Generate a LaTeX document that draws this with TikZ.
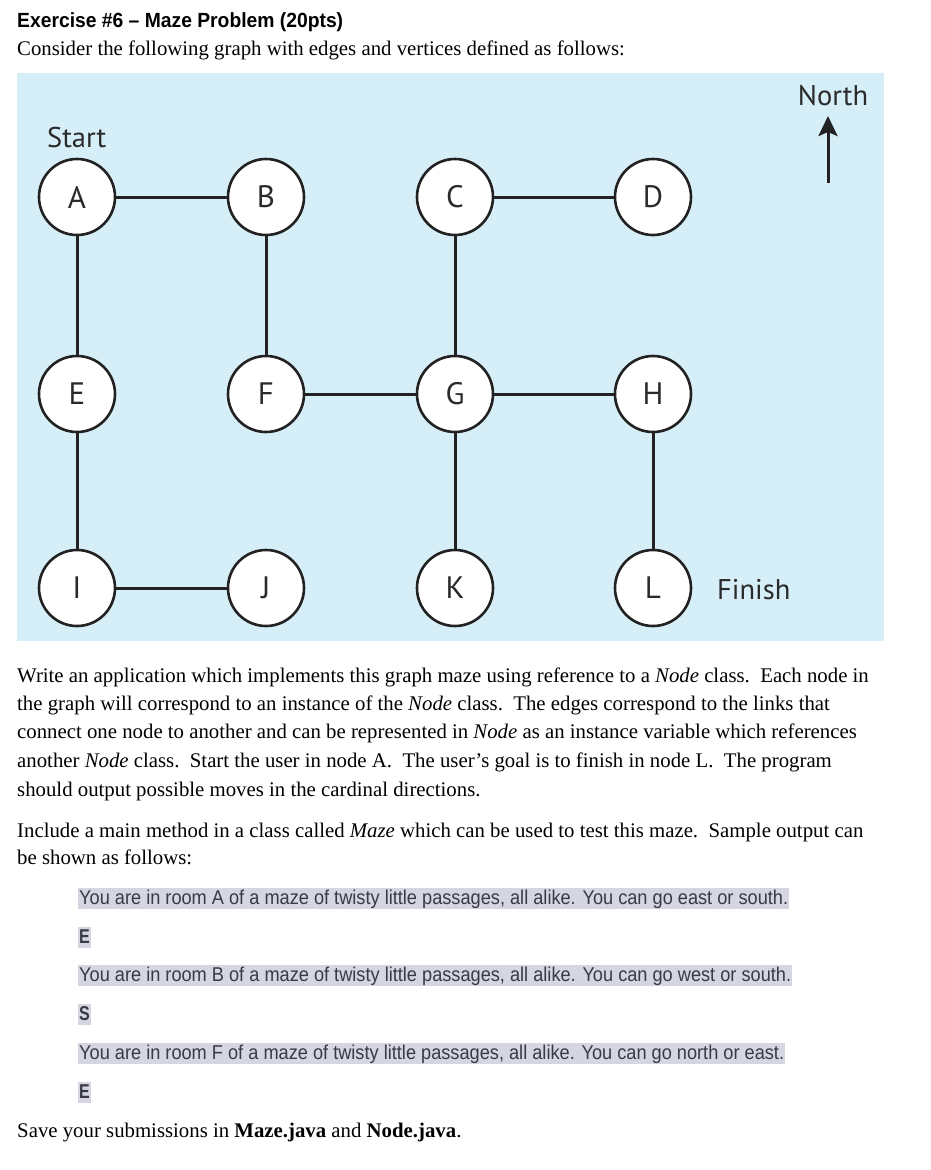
\documentclass[tikz,border=0pt]{standalone}
\usepackage{fontspec}
\usepackage{graphicx}
\setmainfont{Liberation Serif}
\newfontfamily\titlefont{Liberation Sans}
\newfontfamily\labfont{PT Sans}
\newfontfamily\outfont{Liberation Sans}
\usetikzlibrary{arrows.meta}
\definecolor{bgblue}{HTML}{D6EEF8}
\definecolor{circc}{HTML}{222222}
\definecolor{labgray}{HTML}{2A2A2A}
\definecolor{hl}{HTML}{D6D6E2}
\definecolor{outc}{HTML}{3A3A44}
\newlength\fitlen
\newcommand\fitto[2]{\settowidth\fitlen{#2}\pgfmathsetmacro\fitr{#1/\fitlen}\scalebox{\fitr}[1]{#2}}
\newcommand\outsq[1]{\scalebox{0.8}[1]{#1}}
\begin{document}
\begin{tikzpicture}[x=1pt,y=-1pt,
  room/.style={circle, draw=circc, fill=white, line width=2.6pt, minimum size=76pt, inner sep=0pt,
    font=\labfont\fontsize{31}{31}\selectfont, text=labgray},
  edge/.style={line width=3pt, draw=circc},
  lab/.style={inner sep=0pt, anchor=base west, font=\labfont\fontsize{28.5}{30}\selectfont, text=labgray},
  para/.style={anchor=base west, inner sep=0pt, font=\fontsize{20.8}{25}\selectfont},
  outl/.style={anchor=base west, inner sep=0pt, inner xsep=1pt, fill=hl, text=outc,
    text height=16.5pt, text depth=5pt, font=\outfont\fontsize{20}{22}\selectfont},
  outk/.style={outl, font=\outfont\bfseries\fontsize{20}{22}\selectfont}]
\useasboundingbox (0,0) rectangle (930,1170);
\fill[white] (0,0) rectangle (930,1170);

\node[anchor=base west, inner sep=0pt, font=\titlefont\bfseries\fontsize{20.5}{22}\selectfont] (title) at (17,27) {\fitto{326}{Exercise \#6 – Maze Problem (20pts)}};
\node[para] (intro) at (17,55) {Consider the following graph with edges and vertices defined as follows:};

\fill[bgblue] (17,73) rectangle (884,641);

\node[room] (A) at (77,197) {A};
\node[room] (B) at (266,197) {B};
\node[room] (C) at (455,197) {C};
\node[room] (D) at (653,197) {D};
\node[room] (E) at (77,394) {E};
\node[room] (F) at (266,394) {F};
\node[room] (G) at (455,394) {G};
\node[room] (H) at (653,394) {H};
\node[room] (I) at (77,588) {I};
\node[room] (J) at (266,588) {J};
\node[room] (K) at (455,588) {K};
\node[room] (L) at (653,588) {L};

\draw[edge] (A) -- (B);
\draw[edge] (A) -- (E);
\draw[edge] (B) -- (F);
\draw[edge] (C) -- (D);
\draw[edge] (C) -- (G);
\draw[edge] (F) -- (G);
\draw[edge] (G) -- (H);
\draw[edge] (E) -- (I);
\draw[edge] (I) -- (J);
\draw[edge] (G) -- (K);
\draw[edge] (H) -- (L);

\node[lab] (start) at (47,147) {Start};
\node[lab] (finish) at (717,599) {Finish};
\node[lab, anchor=base] (north) at (833,105) {North};
\coordinate (ntail) at (828,183);
\coordinate (nhead) at (828,116);
\draw[line width=3pt, draw=circc, -{Stealth[length=20pt,width=19pt,inset=4pt]}] (ntail) -- (nhead);

\node[para] (p1) at (17,682) {Write an application which implements this graph maze using reference to a \textit{Node} class.\ \ Each node in};
\node[para] (p2) at (17,710) {the graph will correspond to an instance of the \textit{Node} class.\ \ The edges correspond to the links that};
\node[para] (p3) at (17,738) {connect one node to another and can be represented in \textit{Node} as an instance variable which references};
\node[para] (p4) at (17,767) {another \textit{Node} class.\ \ Start the user in node A.\ \ The user’s goal is to finish in node L.\ \ The program};
\node[para] (p5) at (17,796) {should output possible moves in the cardinal directions.};

\node[para] (q1) at (17,837) {Include a main method in a class called \textit{Maze} which can be used to test this maze.\ \ Sample output can};
\node[para] (q2) at (17,864) {be shown as follows:};

\node[outl] (o1) at (78,904) {\fitto{709}{You are in room A of a maze of twisty little passages, all alike. You can go east or south.}};
\node[outk] (o2) at (78,943) {\outsq{E}};
\node[outl] (o3) at (78,981) {\fitto{712}{You are in room B of a maze of twisty little passages, all alike. You can go west or south.}};
\node[outk] (o4) at (78,1020) {\outsq{S}};
\node[outl] (o5) at (78,1059) {\fitto{705}{You are in room F of a maze of twisty little passages, all alike. You can go north or east.}};
\node[outk] (o6) at (78,1098) {\outsq{E}};

\node[para] (save) at (17,1137) {Save your submissions in \textbf{Maze.java} and \textbf{Node.java}.};
\end{tikzpicture}
\end{document}
